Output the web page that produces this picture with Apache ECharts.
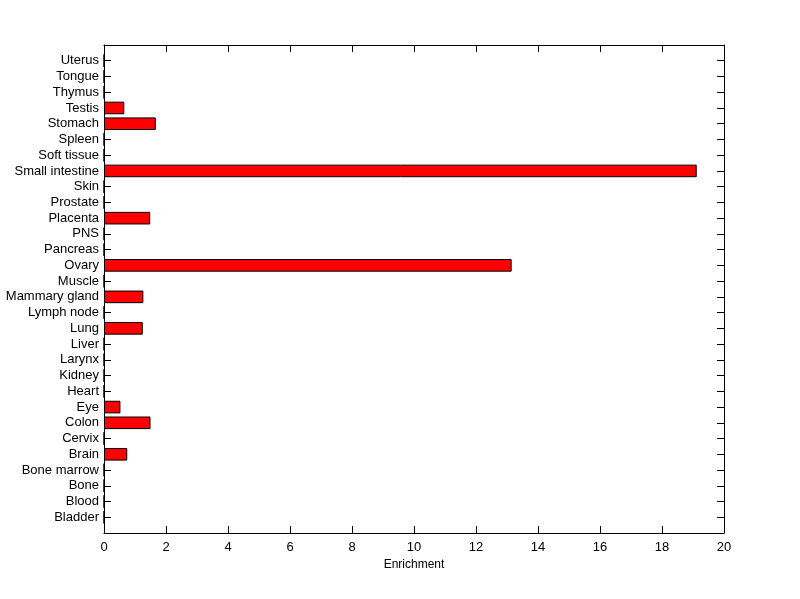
<!DOCTYPE html>
<html>
<head>
<meta charset="utf-8">
<script src="https://cdn.jsdelivr.net/npm/echarts@6/dist/echarts.min.js"></script>
<style>html,body{margin:0;padding:0;background:#fff}#c{width:800px;height:599px}</style>
</head>
<body>
<div id="c"></div>
<script>
var categories = ['Bladder','Blood','Bone','Bone marrow','Brain','Cervix','Colon','Eye','Heart','Kidney','Larynx','Liver','Lung','Lymph node','Mammary gland','Muscle','Ovary','Pancreas','PNS','Placenta','Prostate','Skin','Small intestine','Soft tissue','Spleen','Stomach','Testis','Thymus','Tongue','Uterus'];
var enrichment = [0,0,0,0,0.75,0,1.50,0.53,0,0,0,0,1.25,0,1.27,0,13.15,0,0,1.49,0,0,19.12,0,0,1.67,0.655,0,0,0];
var xTicks = [0,2,4,6,8,10,12,14,16,18,20];
var xLabel = 'Enrichment';

var padCats = [''].concat(categories).concat(['']);
var padVals = ['-'].concat(enrichment).concat(['-']);
var last = padCats.length - 1;
var FONT = 'Liberation Sans, Arial, sans-serif';
var tickFn = function (i) { return i > 0 && i < last; };

var chart = echarts.init(document.getElementById('c'), null, {renderer: 'canvas'});
chart.setOption({
  animation: false,
  backgroundColor: '#ffffff',
  textStyle: {fontFamily: FONT},
  grid: {left: 104, right: 76, top: 45, bottom: 66, containLabel: false},
  xAxis: [{
    type: 'value', position: 'bottom',
    min: xTicks[0], max: xTicks[xTicks.length - 1], interval: xTicks[1] - xTicks[0],
    name: xLabel, nameLocation: 'middle', nameGap: 26,
    nameTextStyle: {color: '#000', fontSize: 12, fontFamily: FONT},
    axisLine: {show: true, onZero: false, lineStyle: {color: '#000', width: 1}},
    axisTick: {show: true, inside: true, length: 7, lineStyle: {color: '#000'}},
    axisLabel: {color: '#000', fontSize: 13, fontFamily: FONT, margin: 8},
    splitLine: {show: false}
  }, {
    type: 'value', position: 'top',
    min: xTicks[0], max: xTicks[xTicks.length - 1], interval: xTicks[1] - xTicks[0],
    axisLine: {show: true, onZero: false, lineStyle: {color: '#000', width: 1}},
    axisTick: {show: true, inside: true, length: 7, lineStyle: {color: '#000'}},
    axisLabel: {show: false},
    splitLine: {show: false}
  }],
  yAxis: [{
    type: 'category', position: 'left', data: padCats, boundaryGap: false,
    axisLine: {show: true, onZero: false, lineStyle: {color: '#000', width: 1}},
    axisTick: {show: true, inside: true, length: 7, interval: tickFn, lineStyle: {color: '#000'}},
    axisLabel: {color: '#000', fontSize: 13, fontFamily: FONT, margin: 5, interval: 0},
    splitLine: {show: false}
  }, {
    type: 'category', position: 'right', data: padCats, boundaryGap: false,
    axisLine: {show: true, onZero: false, lineStyle: {color: '#000', width: 1}},
    axisTick: {show: true, inside: true, length: 7, interval: tickFn, lineStyle: {color: '#000'}},
    axisLabel: {show: false},
    splitLine: {show: false}
  }],
  series: [{
    type: 'bar', xAxisIndex: 0, yAxisIndex: 0,
    data: padVals, barWidth: '80%',
    itemStyle: {color: '#ff0000', borderColor: '#000', borderWidth: 1}
  }]
});
</script>
</body>
</html>
